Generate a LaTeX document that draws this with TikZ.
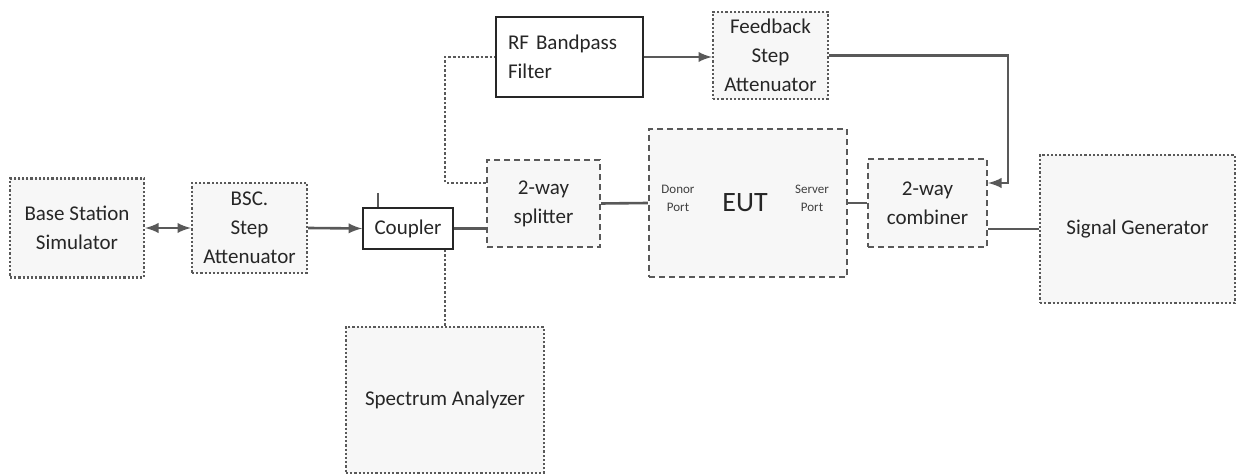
\documentclass[tikz,border=0pt]{standalone}
\usepackage{fontspec}
\setmainfont{Carlito}
\usetikzlibrary{positioning}

\tikzset{
 unit/.style={draw=black!65, densely dotted, line width=1.1pt, fill=gray!6,
   align=center, font=\fontsize{10.5}{14.5}\selectfont, text=black!85},
 unitdash/.style={unit, densely dashed},
 plainbox/.style={draw=black!85, line width=0.9pt, fill=white,
   font=\fontsize{10.5}{14.5}\selectfont, text=black!85},
 wire/.style={draw=black!65, line width=1.3pt},
 dotwire/.style={wire, densely dotted},
 portlabel/.style={font=\fontsize{6.5}{9}\selectfont, text=black!75, align=center},
}

\begin{document}
\begin{tikzpicture}[x=0.5pt, y=-0.5pt]
 \useasboundingbox (0,0) rectangle (1239,475);
 % boxes
 \node[unit, minimum width=67pt, minimum height=49.5pt] (bss) at (77,228) {Base Station\\Simulator};
 \node[unit, minimum width=57.5pt, minimum height=45pt] (bsc) at (249.5,228) {BSC.\\Step\\Attenuator};
 \node[plainbox, minimum width=45pt, minimum height=20.5pt] (coupler) at (408,228.5) {Coupler};
 \node[unitdash, minimum width=56.5pt, minimum height=43.5pt] (splitter) at (543.5,203.5) {2-way\\splitter};
 \node[plainbox, minimum height=40pt, text width=61.5pt, inner xsep=6pt, align=left] (rf) at (569.5,57) {RF Bandpass\\Filter};
 \node[unit, minimum width=57.5pt, minimum height=43.5pt] (fb) at (770.5,55.5) {Feedback\\Step\\Attenuator};
 \node[unitdash, minimum width=99pt, minimum height=74pt] (eut) at (748,203) {};
 \node[font=\fontsize{14}{16}\selectfont, text=black!85] (eutname) at (745,203) {EUT};
 \node[portlabel] (donor) at (678,198) {Donor\\Port};
 \node[portlabel] (server) at (812,198) {Server\\Port};
 \node[unitdash, minimum width=59.5pt, minimum height=44pt] (comb) at (927.5,203) {2-way\\combiner};
 \node[unit, minimum width=97.5pt, minimum height=74pt] (siggen) at (1137.5,229) {Signal Generator};
 \node[unit, minimum width=99pt, minimum height=73pt] (spec) at (445,400) {Spectrum Analyzer};

 % corner points of the feedback loop
 \coordinate (loopL) at (445,183);
 \coordinate (loopR) at (1008,183);
 \coordinate (tick) at (378,193);

 % connectors
 \draw[wire, latex-latex] (bss.east) -- (bsc.west);
 \draw[wire, -latex] (bsc.east) -- (coupler.west);
 \draw[wire] (coupler.east) -- (coupler.east -| splitter.west);
 \draw[wire, line width=1pt] (tick) -- (tick |- coupler.north);
 \draw[dotwire] (spec.north) -- (spec.north |- coupler.south);
 \draw[wire] (splitter.east) -- (eut.west);
 \draw[dotwire] (splitter.west |- loopL) -- (loopL) |- (rf.west);
 \draw[wire, -latex] (rf.east) -- (rf.east -| fb.west);
 \draw[wire, -latex] (fb.east) -| (loopR) -- (loopR -| comb.east);
 \draw[wire] (eut.east) -- (comb.west);
 \draw[wire] (comb.east |- siggen.west) -- (siggen.west);
\end{tikzpicture}
\end{document}
